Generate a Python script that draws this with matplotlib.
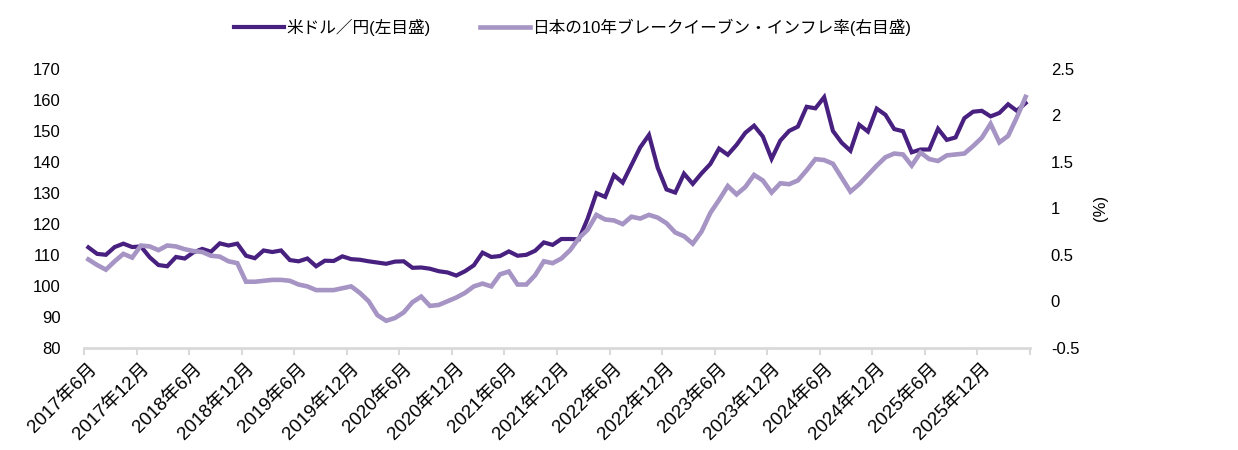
import numpy as np
import matplotlib
matplotlib.use('Agg')
import matplotlib.pyplot as plt
from matplotlib.ticker import FuncFormatter

plt.rcParams['font.family'] = ['Liberation Sans', 'Noto Sans CJK JP', 'DejaVu Sans']

# 月末値 2017年6月〜2026年5月 (108か月)
usd_jpy = [
    112.4, 110.3, 110.0, 112.5, 113.6, 112.5, 112.7,
    109.2, 106.7, 106.3, 109.3, 108.8, 110.8, 111.9, 111.0, 113.7, 113.0, 113.6, 109.7,
    108.9, 111.4, 110.9, 111.4, 108.3, 107.9, 108.8, 106.3, 108.1, 108.0, 109.5, 108.6,
    108.4, 107.9, 107.5, 107.1, 107.8, 107.9, 105.8, 105.9, 105.5, 104.7, 104.3, 103.3,
    104.7, 106.6, 110.7, 109.3, 109.6, 111.1, 109.7, 110.0, 111.3, 114.0, 113.2, 115.1,
    115.1, 115.0, 121.7, 129.9, 128.7, 135.7, 133.3, 139.0, 144.7, 148.7, 138.1, 131.1,
    130.1, 136.2, 132.9, 136.3, 139.3, 144.3, 142.3, 145.5, 149.4, 151.7, 148.2, 141.0,
    146.9, 150.0, 151.4, 157.8, 157.3, 160.9, 150.0, 146.2, 143.6, 152.0, 149.8, 157.2,
    155.2, 150.6, 149.9, 143.1, 144.0, 144.0, 150.7, 147.1, 147.9, 154.1, 156.2, 156.5,
    154.7, 155.8, 158.6, 156.5, 159.0,
]

bei_10y = [
    0.45, 0.39, 0.34, 0.43, 0.51, 0.47, 0.60,
    0.59, 0.55, 0.60, 0.59, 0.56, 0.54, 0.53, 0.49, 0.48, 0.43, 0.41, 0.21,
    0.21, 0.22, 0.23, 0.23, 0.22, 0.18, 0.16, 0.12, 0.12, 0.12, 0.14, 0.16,
    0.09, 0.00, -0.15, -0.21, -0.18, -0.12, -0.01, 0.05, -0.05, -0.04, 0.00, 0.04,
    0.09, 0.16, 0.19, 0.16, 0.29, 0.32, 0.18, 0.18, 0.28, 0.43, 0.41, 0.46,
    0.55, 0.68, 0.77, 0.93, 0.88, 0.87, 0.83, 0.91, 0.89, 0.93, 0.90, 0.84,
    0.74, 0.70, 0.62, 0.75, 0.95, 1.09, 1.24, 1.15, 1.23, 1.36, 1.30, 1.17,
    1.27, 1.26, 1.30, 1.41, 1.53, 1.52, 1.48, 1.33, 1.18, 1.26, 1.36, 1.46,
    1.55, 1.59, 1.58, 1.46, 1.60, 1.53, 1.51, 1.57, 1.58, 1.59, 1.67, 1.76,
    1.91, 1.71, 1.78, 1.98, 2.20,
]

tick_labels = [
    '2017年6月', '2017年12月', '2018年6月', '2018年12月', '2019年6月', '2019年12月',
    '2020年6月', '2020年12月', '2021年6月', '2021年12月', '2022年6月', '2022年12月',
    '2023年6月', '2023年12月', '2024年6月', '2024年12月', '2025年6月', '2025年12月',
]

dark = '#482080'
light = '#A594C4'
grid_gray = '#D9D9D9'

x = np.arange(len(usd_jpy))

fig = plt.figure(figsize=(12.38, 4.5), dpi=100)
ax = fig.add_axes([84 / 1238, 1 - 347.7 / 450, (1030 - 84) / 1238, (347.7 - 69) / 450])
ax2 = ax.twinx()

l1, = ax.plot(x, usd_jpy, color=dark, lw=3, solid_joinstyle='miter', label='米ドル／円(左目盛)')
l2, = ax2.plot(x, bei_10y, color=light, lw=3.3, solid_joinstyle='miter',
               label='日本の10年ブレークイーブン・インフレ率(右目盛)')

ax.set_xlim(-0.5, len(x) - 0.5)
ax.set_ylim(80, 170)
ax2.set_ylim(-0.5, 2.5)

ax.set_yticks(range(80, 171, 10))
ax2.set_yticks(np.arange(-0.5, 2.51, 0.5))
ax2.yaxis.set_major_formatter(FuncFormatter(lambda v, p: f'{v:g}'))

ax.set_xticks(np.arange(0, len(x), 6))
ax.set_xticklabels(tick_labels, rotation=45, ha='right', rotation_mode='anchor')
ax.set_xticks(np.arange(-0.5, len(x) + 0.1, 6), minor=True)

ax.tick_params(axis='x', which='major', length=0, pad=9, labelsize=13.5)
ax.tick_params(axis='x', which='minor', length=5, width=1.5, color=grid_gray)
ax.tick_params(axis='y', length=0, pad=17, labelsize=12)
ax2.tick_params(axis='y', length=0, pad=15, labelsize=12)

for s in ['top', 'left', 'right']:
    ax.spines[s].set_visible(False)
for s in ax2.spines.values():
    s.set_visible(False)
ax.spines['bottom'].set_color(grid_gray)
ax.spines['bottom'].set_linewidth(2)

ax2.set_ylabel('(%)', fontsize=12, labelpad=10)

fig.legend(handles=[l1, l2], loc='center', bbox_to_anchor=(0.4625, 0.94), ncol=2,
           frameon=False, fontsize=12, handlelength=3.0, handletextpad=0.1,
           columnspacing=3.0)

fig.savefig('out.png', dpi=100)
